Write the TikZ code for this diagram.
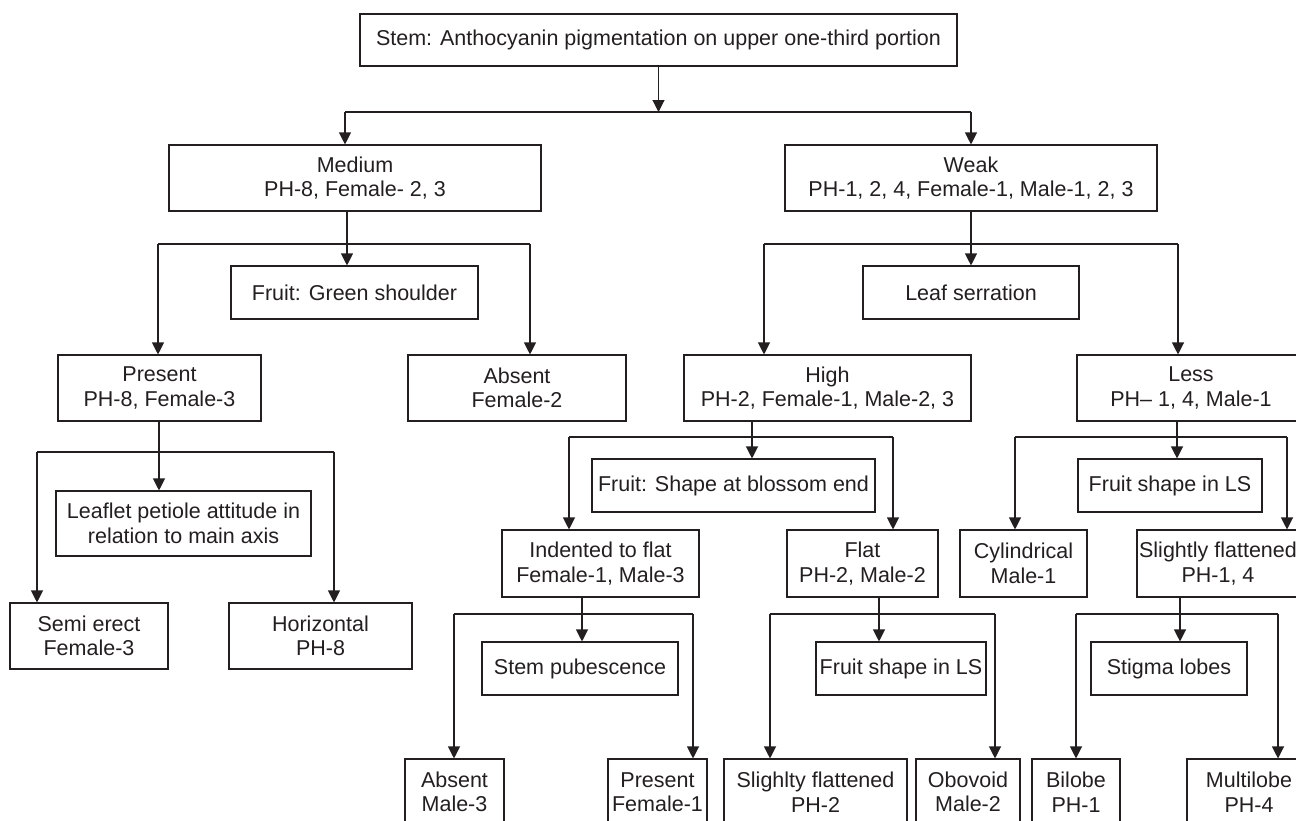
\documentclass[tikz,border=0pt]{standalone}
\usepackage{fontspec}
\setmainfont{Liberation Sans}
\usetikzlibrary{arrows.meta}
\definecolor{ink}{RGB}{35,31,32}
\newcommand\mkbox[6]{\node[box, minimum width={(#4)-(#2)}, minimum height={(#5)-(#3)}] (#1) at ({((#2)+(#4))/2},{((#3)+(#5))/2}) {#6};}
\begin{document}
\begin{tikzpicture}[x=1pt,y=-1pt,
  box/.style={draw=ink, line width=1.1pt, rectangle, inner sep=0pt, align=center, text=ink, font=\fontsize{21.5}{24.5}\selectfont},
  ln/.style={draw=ink, line width=1.1pt},
  arr/.style={ln, -{Triangle[length=12pt,width=12pt]}}]
\useasboundingbox (0,0) rectangle (1296,820);
\clip (0,0) rectangle (1296,820);
% boxes
\mkbox{top}{360}{14}{957}{66}{Stem: Anthocyanin pigmentation on upper one-third portion}
\mkbox{med}{169}{145}{541}{211}{Medium\\PH-8, Female- 2, 3}
\mkbox{weak}{785}{145}{1157}{211}{Weak\\PH-1, 2, 4, Female-1, Male-1, 2, 3}
\mkbox{fgs}{231}{266}{478}{319}{Fruit: Green shoulder}
\mkbox{lser}{863}{266}{1079}{319}{Leaf serration}
\mkbox{pres}{58}{355}{261}{421}{Present\\PH-8, Female-3}
\mkbox{abs}{408}{355}{626}{421}{Absent\\Female-2}
\mkbox{high}{684}{355}{971}{421}{High\\PH-2, Female-1, Male-2, 3}
\mkbox{less}{1077}{355}{1305}{421}{Less\\PH– 1, 4, Male-1}
\mkbox{leaf}{56}{491}{311}{556}{Leaflet petiole attitude in\\relation to main axis}
\mkbox{fsbe}{592}{459}{875}{512}{Fruit: Shape at blossom end}
\mkbox{flsa}{1078}{459}{1262}{512}{Fruit shape in LS}
\mkbox{semi}{10}{603}{168}{669}{Semi erect\\Female-3}
\mkbox{horz}{229}{603}{412}{669}{Horizontal\\PH-8}
\mkbox{ind}{502}{530}{699}{597}{Indented to flat\\Female-1, Male-3}
\mkbox{flat}{787}{530}{938}{597}{Flat\\PH-2, Male-2}
\mkbox{cyl}{960}{530}{1087}{597}{Cylindrical\\Male-1}
\mkbox{sfl}{1137}{530}{1299}{597}{Slightly flattened\\PH-1, 4}
\mkbox{spub}{482}{642}{678}{695}{Stem pubescence}
\mkbox{flsb}{816}{642}{986}{695}{Fruit shape in LS}
\mkbox{stig}{1091}{642}{1247}{695}{Stigma lobes}
\mkbox{absb}{405}{759}{504}{825}{Absent\\Male-3}
\mkbox{presb}{608}{759}{707}{825}{Present\\Female-1}
\mkbox{sflb}{724}{759}{907}{825}{Slighlty flattened\\PH-2}
\mkbox{obo}{916}{759}{1020}{825}{Obovoid\\Male-2}
\mkbox{bil}{1032}{759}{1120}{825}{Bilobe\\PH-1}
\mkbox{mul}{1187}{759}{1311}{825}{Multilobe\\PH-4}
% level 0
\coordinate (h0L) at (345,112); \coordinate (h0R) at (971,112);
\draw[arr] (top.south) -- (top.south |- h0L);
\draw[ln] (h0L) -- (h0R);
\draw[arr] (h0L) -- (h0L |- med.north);
\draw[arr] (h0R) -- (h0R |- weak.north);
% medium
\coordinate (s1) at (347,244); \coordinate (h1L) at (158,244); \coordinate (h1R) at (530,244);
\draw[arr] (s1 |- med.south) -- (s1 |- fgs.north);
\draw[ln] (h1L) -- (h1R);
\draw[arr] (h1L) -- (h1L |- pres.north);
\draw[arr] (h1R) -- (h1R |- abs.north);
% weak
\coordinate (s2) at (971,244); \coordinate (h2L) at (764,244); \coordinate (h2R) at (1178,244);
\draw[arr] (s2 |- weak.south) -- (s2 |- lser.north);
\draw[ln] (h2L) -- (h2R);
\draw[arr] (h2L) -- (h2L |- high.north);
\draw[arr] (h2R) -- (h2R |- less.north);
% present
\coordinate (s3) at (159,452); \coordinate (h3L) at (37,452); \coordinate (h3R) at (334,452);
\draw[arr] (s3 |- pres.south) -- (s3 |- leaf.north);
\draw[ln] (h3L) -- (h3R);
\draw[arr] (h3L) -- (h3L |- semi.north);
\draw[arr] (h3R) -- (h3R |- horz.north);
% high
\coordinate (s4) at (752,437); \coordinate (h4L) at (569,437); \coordinate (h4R) at (893,437);
\draw[arr] (s4 |- high.south) -- (s4 |- fsbe.north);
\draw[ln] (h4L) -- (h4R);
\draw[arr] (h4L) -- (h4L |- ind.north);
\draw[arr] (h4R) -- (h4R |- flat.north);
% less
\coordinate (s5) at (1177,437); \coordinate (h5L) at (1015,437); \coordinate (h5R) at (1287,437);
\draw[arr] (s5 |- less.south) -- (s5 |- flsa.north);
\draw[ln] (h5L) -- (h5R);
\draw[arr] (h5L) -- (h5L |- cyl.north);
\draw[arr] (h5R) -- (h5R |- sfl.north);
% indented
\coordinate (s6) at (582,614); \coordinate (h6L) at (454,614); \coordinate (h6R) at (693,614);
\draw[arr] (s6 |- ind.south) -- (s6 |- spub.north);
\draw[ln] (h6L) -- (h6R);
\draw[arr] (h6L) -- (h6L |- absb.north);
\draw[arr] (h6R) -- (h6R |- presb.north);
% flat
\coordinate (s7) at (879,614); \coordinate (h7L) at (770,614); \coordinate (h7R) at (995,614);
\draw[arr] (s7 |- flat.south) -- (s7 |- flsb.north);
\draw[ln] (h7L) -- (h7R);
\draw[arr] (h7L) -- (h7L |- sflb.north);
\draw[arr] (h7R) -- (h7R |- obo.north);
% slightly flattened
\coordinate (s8) at (1180,614); \coordinate (h8L) at (1076,614); \coordinate (h8R) at (1278,614);
\draw[arr] (s8 |- sfl.south) -- (s8 |- stig.north);
\draw[ln] (h8L) -- (h8R);
\draw[arr] (h8L) -- (h8L |- bil.north);
\draw[arr] (h8R) -- (h8R |- mul.north);
\end{tikzpicture}
\end{document}
